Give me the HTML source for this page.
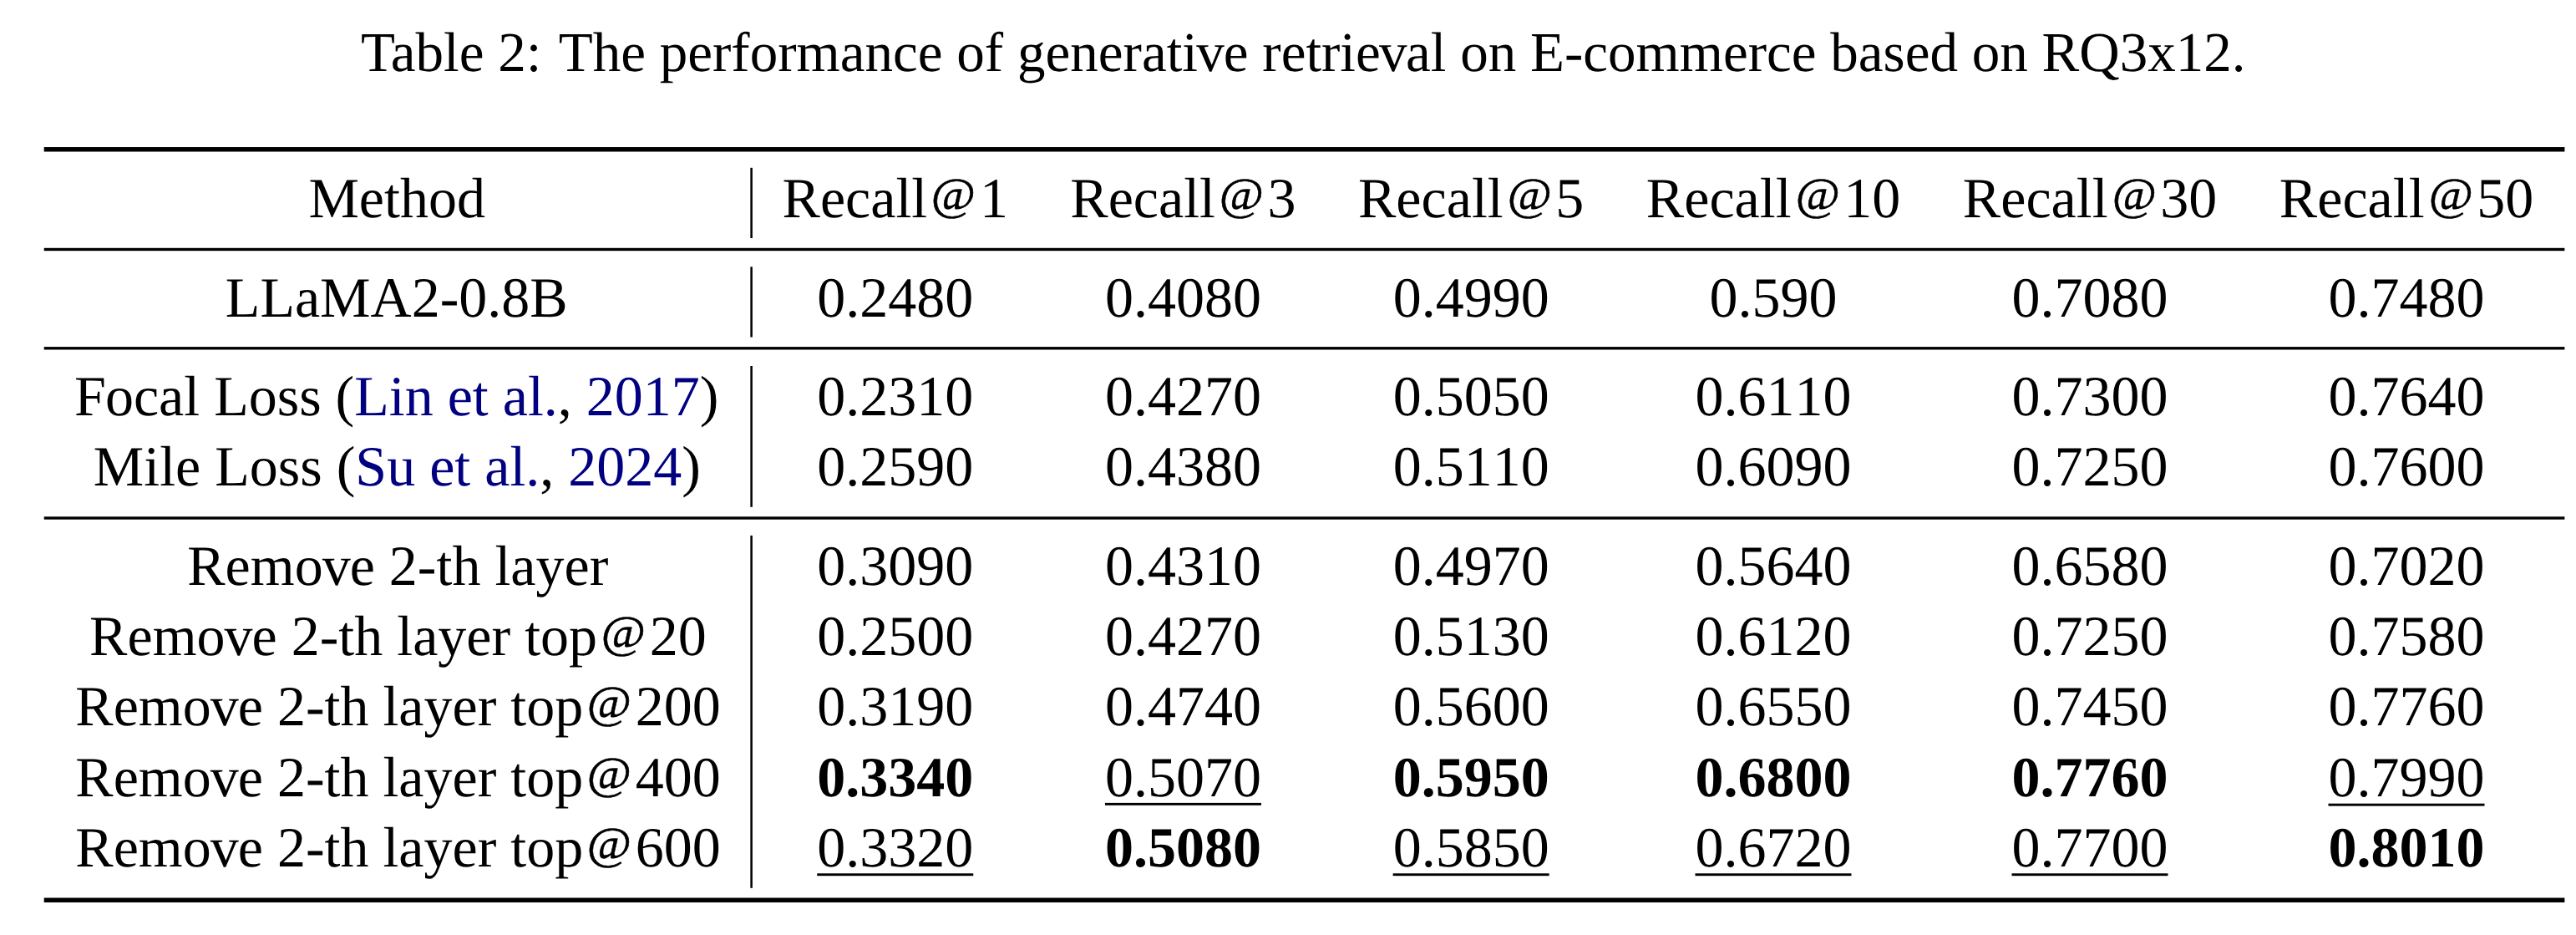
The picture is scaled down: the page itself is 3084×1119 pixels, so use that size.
<!DOCTYPE html>
<html lang="en">
<head>
<meta charset="utf-8">
<title>Table 2: The performance of generative retrieval on E-commerce based on RQ3x12.</title>
<style>
html,body{margin:0;padding:0;background:#fff;}
body{width:3084px;height:1119px;position:relative;overflow:hidden;
 font-family:"Liberation Serif",serif;font-size:68.0px;line-height:100.0px;color:#000;
 font-kerning:none;font-variant-ligatures:none;text-rendering:geometricPrecision;}
.t{position:absolute;white-space:nowrap;text-align:center;height:100.0px;}
.cap{position:absolute;white-space:nowrap;height:100.0px;}
.cite{color:#000080;}
.at{display:inline-block;-webkit-text-stroke:0.7px #000;transform-origin:0 0;transform:translate(4.812px,4.682px) scale(0.8503,0.8062);}
b{font-weight:bold;}
svg{position:absolute;left:0;top:0;}
</style>
</head>
<body>
<div class="cap" style="left:432.10px;top:13.26px;font-size:67.07px;"><span style="letter-spacing:-0.080em">T</span>able 2:<span style="display:inline-block;width:20.40px"></span>The performance of generat<span style="letter-spacing:-0.025em">i</span><span style="letter-spacing:-0.015em">v</span>e retri<span style="letter-spacing:-0.025em">e</span><span style="letter-spacing:-0.025em">v</span>al on E-commerce based on RQ3x12.</div>
<div class="t" style="left:51.85px;top:187.05px;width:846.70px;">Method</div>
<div class="t" style="left:899.40px;top:187.05px;width:344.70px;">Recall<span class="at">@</span>1</div>
<div class="t" style="left:1244.10px;top:187.05px;width:344.70px;">Recall<span class="at">@</span>3</div>
<div class="t" style="left:1588.80px;top:187.05px;width:344.70px;">Recall<span class="at">@</span>5</div>
<div class="t" style="left:1933.50px;top:187.05px;width:379.00px;">Recall<span class="at">@</span>10</div>
<div class="t" style="left:2312.50px;top:187.05px;width:379.00px;">Recall<span class="at">@</span>30</div>
<div class="t" style="left:2691.50px;top:187.05px;width:379.00px;">Recall<span class="at">@</span>50</div>
<div class="t" style="left:51.45px;top:305.95px;width:846.70px;">LLaMA2-0.8B</div>
<div class="t" style="left:899.40px;top:305.95px;width:344.70px;">0.2480</div>
<div class="t" style="left:1244.10px;top:305.95px;width:344.70px;">0.4080</div>
<div class="t" style="left:1588.80px;top:305.95px;width:344.70px;">0.4990</div>
<div class="t" style="left:1933.50px;top:305.95px;width:379.00px;">0.590</div>
<div class="t" style="left:2312.50px;top:305.95px;width:379.00px;">0.7080</div>
<div class="t" style="left:2691.50px;top:305.95px;width:379.00px;">0.7480</div>
<div class="t" style="left:51.45px;top:423.95px;width:846.70px;"><span style="letter-spacing:-0.015em">F</span>ocal Loss (<span class="cite">Lin et al.</span>, <span class="cite">2017</span>)</div>
<div class="t" style="left:899.40px;top:423.95px;width:344.70px;">0.2310</div>
<div class="t" style="left:1244.10px;top:423.95px;width:344.70px;">0.4270</div>
<div class="t" style="left:1588.80px;top:423.95px;width:344.70px;">0.5050</div>
<div class="t" style="left:1933.50px;top:423.95px;width:379.00px;">0.6110</div>
<div class="t" style="left:2312.50px;top:423.95px;width:379.00px;">0.7300</div>
<div class="t" style="left:2691.50px;top:423.95px;width:379.00px;">0.7640</div>
<div class="t" style="left:52.05px;top:508.25px;width:846.70px;">Mile Loss (<span class="cite">Su et al.</span>, <span class="cite">2024</span>)</div>
<div class="t" style="left:899.40px;top:508.25px;width:344.70px;">0.2590</div>
<div class="t" style="left:1244.10px;top:508.25px;width:344.70px;">0.4380</div>
<div class="t" style="left:1588.80px;top:508.25px;width:344.70px;">0.5110</div>
<div class="t" style="left:1933.50px;top:508.25px;width:379.00px;">0.6090</div>
<div class="t" style="left:2312.50px;top:508.25px;width:379.00px;">0.7250</div>
<div class="t" style="left:2691.50px;top:508.25px;width:379.00px;">0.7600</div>
<div class="t" style="left:52.95px;top:626.65px;width:846.70px;">Rem<span style="letter-spacing:-0.015em">o</span><span style="letter-spacing:-0.015em">v</span>e 2-th layer</div>
<div class="t" style="left:899.40px;top:626.65px;width:344.70px;">0.3090</div>
<div class="t" style="left:1244.10px;top:626.65px;width:344.70px;">0.4310</div>
<div class="t" style="left:1588.80px;top:626.65px;width:344.70px;">0.4970</div>
<div class="t" style="left:1933.50px;top:626.65px;width:379.00px;">0.5640</div>
<div class="t" style="left:2312.50px;top:626.65px;width:379.00px;">0.6580</div>
<div class="t" style="left:2691.50px;top:626.65px;width:379.00px;">0.7020</div>
<div class="t" style="left:53.05px;top:710.95px;width:846.70px;">Rem<span style="letter-spacing:-0.015em">o</span><span style="letter-spacing:-0.015em">v</span>e 2-th layer top<span class="at">@</span>20</div>
<div class="t" style="left:899.40px;top:710.95px;width:344.70px;">0.2500</div>
<div class="t" style="left:1244.10px;top:710.95px;width:344.70px;">0.4270</div>
<div class="t" style="left:1588.80px;top:710.95px;width:344.70px;">0.5130</div>
<div class="t" style="left:1933.50px;top:710.95px;width:379.00px;">0.6120</div>
<div class="t" style="left:2312.50px;top:710.95px;width:379.00px;">0.7250</div>
<div class="t" style="left:2691.50px;top:710.95px;width:379.00px;">0.7580</div>
<div class="t" style="left:53.25px;top:795.25px;width:846.70px;">Rem<span style="letter-spacing:-0.015em">o</span><span style="letter-spacing:-0.015em">v</span>e 2-th layer top<span class="at">@</span>200</div>
<div class="t" style="left:899.40px;top:795.25px;width:344.70px;">0.3190</div>
<div class="t" style="left:1244.10px;top:795.25px;width:344.70px;">0.4740</div>
<div class="t" style="left:1588.80px;top:795.25px;width:344.70px;">0.5600</div>
<div class="t" style="left:1933.50px;top:795.25px;width:379.00px;">0.6550</div>
<div class="t" style="left:2312.50px;top:795.25px;width:379.00px;">0.7450</div>
<div class="t" style="left:2691.50px;top:795.25px;width:379.00px;">0.7760</div>
<div class="t" style="left:53.25px;top:879.55px;width:846.70px;">Rem<span style="letter-spacing:-0.015em">o</span><span style="letter-spacing:-0.015em">v</span>e 2-th layer top<span class="at">@</span>400</div>
<div class="t" style="left:899.40px;top:879.55px;width:344.70px;"><b>0.3340</b></div>
<div class="t" style="left:1244.10px;top:879.55px;width:344.70px;">0.5070</div>
<div class="t" style="left:1588.80px;top:879.55px;width:344.70px;"><b>0.5950</b></div>
<div class="t" style="left:1933.50px;top:879.55px;width:379.00px;"><b>0.6800</b></div>
<div class="t" style="left:2312.50px;top:879.55px;width:379.00px;"><b>0.7760</b></div>
<div class="t" style="left:2691.50px;top:879.55px;width:379.00px;">0.7990</div>
<div class="t" style="left:53.25px;top:963.95px;width:846.70px;">Rem<span style="letter-spacing:-0.015em">o</span><span style="letter-spacing:-0.015em">v</span>e 2-th layer top<span class="at">@</span>600</div>
<div class="t" style="left:899.40px;top:963.95px;width:344.70px;">0.3320</div>
<div class="t" style="left:1244.10px;top:963.95px;width:344.70px;"><b>0.5080</b></div>
<div class="t" style="left:1588.80px;top:963.95px;width:344.70px;">0.5850</div>
<div class="t" style="left:1933.50px;top:963.95px;width:379.00px;">0.6720</div>
<div class="t" style="left:2312.50px;top:963.95px;width:379.00px;">0.7700</div>
<div class="t" style="left:2691.50px;top:963.95px;width:379.00px;"><b>0.8010</b></div>
<svg width="3084" height="1119" viewBox="0 0 3084 1119" fill="#000">
<rect x="52.70" y="176.05" width="3017.70" height="5.45"/>
<rect x="52.70" y="296.80" width="3017.70" height="3.40"/>
<rect x="52.70" y="415.10" width="3017.70" height="3.40"/>
<rect x="52.70" y="618.30" width="3017.70" height="3.40"/>
<rect x="52.70" y="1074.50" width="3017.70" height="5.50"/>
<rect x="898.35" y="200.80" width="2.50" height="84.20"/>
<rect x="898.35" y="319.30" width="2.50" height="84.20"/>
<rect x="898.35" y="438.00" width="2.50" height="168.80"/>
<rect x="898.35" y="640.90" width="2.50" height="421.90"/>
<rect x="1322.95" y="960.90" width="187.00" height="2.90"/>
<rect x="2787.50" y="961.70" width="187.00" height="2.90"/>
<rect x="978.25" y="1045.30" width="187.00" height="2.90"/>
<rect x="1667.65" y="1045.30" width="187.00" height="2.90"/>
<rect x="2029.50" y="1045.30" width="187.00" height="2.90"/>
<rect x="2408.50" y="1045.30" width="187.00" height="2.90"/>
</svg>
</body>
</html>
